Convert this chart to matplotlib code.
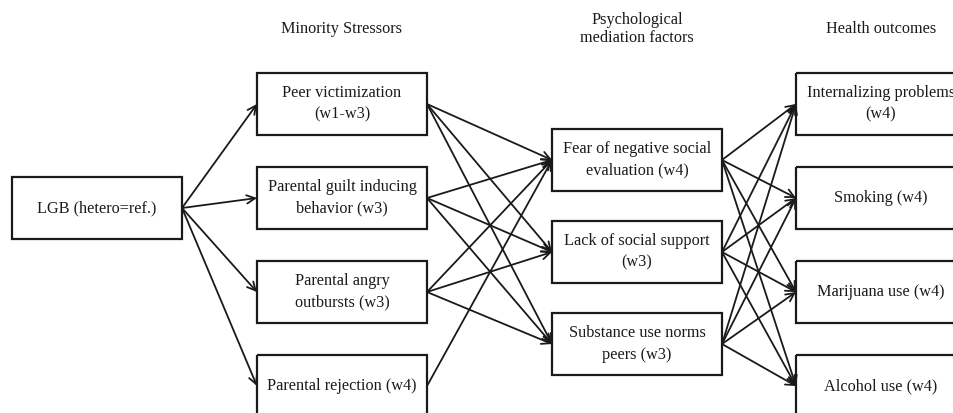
import matplotlib.pyplot as plt
from matplotlib.patches import Rectangle

plt.rcParams.update({'font.size': 11.7, 'font.family': 'Liberation Serif'})

# ------------------ diagram content ------------------
headers = ['Minority Stressors', 'Psychological\nmediation factors', 'Health outcomes']
exposure = ['LGB (hetero=ref.)']
stressors = ['Peer victimization\n(w1-w3)', 'Parental guilt inducing\nbehavior (w3)',
             'Parental angry\noutbursts (w3)', 'Parental rejection (w4)']
mediators = ['Fear of negative social\nevaluation (w4)', 'Lack of social support\n(w3)',
             'Substance use norms\npeers (w3)']
outcomes = ['Internalizing problems\n(w4)', 'Smoking (w4)', 'Marijuana use (w4)',
            'Alcohol use (w4)']

# paths as (from index, to index)
exp_to_str = [(0, 0), (0, 1), (0, 2), (0, 3)]
str_to_med = [(0, 0), (0, 1), (0, 2), (1, 0), (1, 1), (1, 2),
              (2, 0), (2, 1), (2, 2), (3, 0)]
med_to_out = [(m, o) for m in range(3) for o in range(4)]

# ------------------ layout (pixels) ------------------
W, H = 954, 413
BW, BH = 170, 62
col_x = [12, 257, 552, 796]
tops = {
    0: [177],
    1: [73, 167, 261, 355],
    2: [129, 221, 313],
    3: [73, 167, 261, 355],
}
cols = [exposure, stressors, mediators, outcomes]

fig = plt.figure(figsize=(W / 100, H / 100), dpi=100)
ax = fig.add_axes([0, 0, 1, 1])
ax.set_xlim(0, W)
ax.set_ylim(H, 0)
ax.axis('off')

for c, labels in enumerate(cols):
    for r, lab in enumerate(labels):
        x, y = col_x[c], tops[c][r]
        ax.add_patch(Rectangle((x, y), BW, BH, fill=False, lw=1.6, ec='#1a1a1a',
                               clip_on=False))
        ax.text(x + BW / 2, y + BH / 2, lab, ha='center', va='center',
                linespacing=1.45, color='#1a1a1a')


def anchor(c, r, side):
    x = col_x[c] + (BW if side == 'r' else 0)
    return x, tops[c][r] + BH / 2


def arrows(c, pairs):
    for a, b in pairs:
        ax.annotate('', xy=anchor(c + 1, b, 'l'), xytext=anchor(c, a, 'r'),
                    arrowprops=dict(arrowstyle='->', lw=1.3, color='#1a1a1a',
                                    shrinkA=0, shrinkB=0, mutation_scale=15))


arrows(0, exp_to_str)
arrows(1, str_to_med)
arrows(2, med_to_out)

hx = [col_x[1] + BW / 2, col_x[2] + BW / 2, col_x[3] + BW / 2]
for x, t in zip(hx, headers):
    ax.text(x, 29, t, ha='center', va='center', linespacing=1.2, color='#1a1a1a')

fig.savefig('out.png', dpi=100)
